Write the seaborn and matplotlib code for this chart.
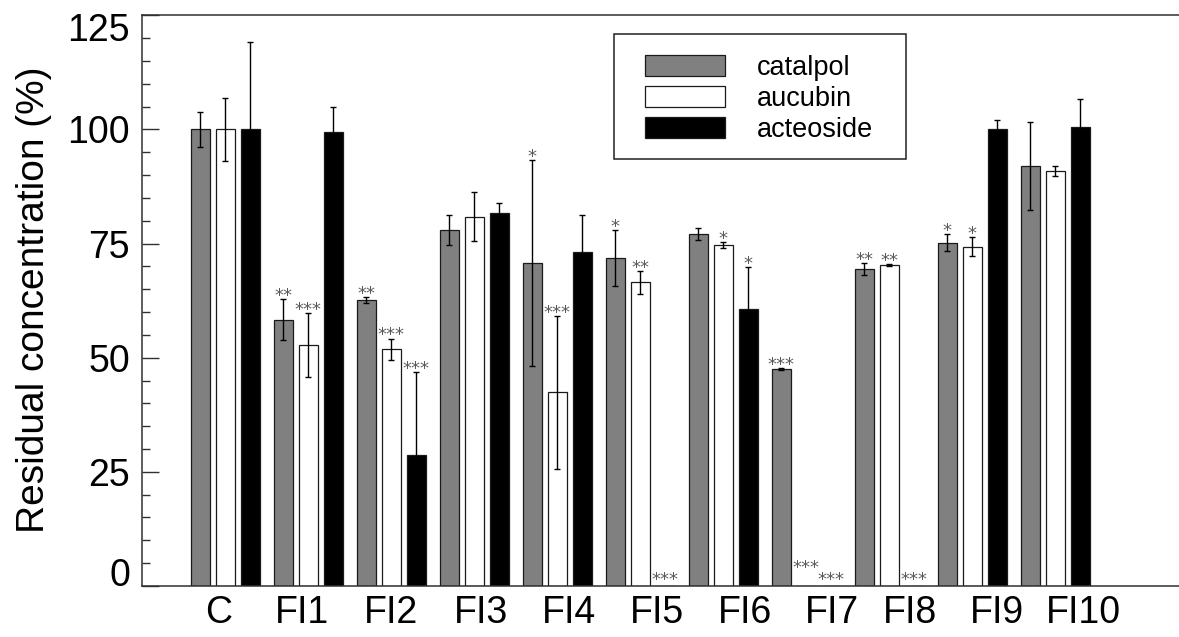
import pandas as pd
import matplotlib
matplotlib.use('Agg')
import matplotlib.pyplot as plt
import matplotlib.transforms as mtransforms
from matplotlib.patches import Rectangle, Patch
from matplotlib.ticker import MultipleLocator
import seaborn as sns

groups = ['C', 'FI1', 'FI2', 'FI3', 'FI4', 'FI5', 'FI6', 'FI7', 'FI8', 'FI9', 'FI10']
compounds = ['catalpol', 'aucubin', 'acteoside']

catalpol = [100, 58.3, 62.6, 78.0, 70.7, 71.8, 77.1, 47.5, 69.5, 75.2, 92.0]
catalpol_err = [3.9, 4.5, 0.7, 3.3, 22.6, 6.2, 1.3, 0.25, 1.3, 1.9, 9.7]
catalpol_sig = ['', '**', '**', '', '*', '*', '', '***', '**', '*', '']

aucubin = [100, 52.8, 51.9, 80.9, 42.4, 66.5, 74.7, 0, 70.3, 74.3, 90.9]
aucubin_err = [6.9, 7.0, 2.3, 5.3, 16.8, 2.5, 0.6, 0, 0.2, 2.1, 1.0]
aucubin_sig = ['', '***', '***', '', '***', '**', '*', '***', '**', '*', '']

acteoside = [100, 99.5, 28.6, 81.7, 73.1, 0, 60.6, 0, 0, 100.0, 100.5]
acteoside_err = [19.1, 5.4, 18.2, 2.1, 8.2, 0, 9.2, 0, 0, 2.0, 6.1]
acteoside_sig = ['', '', '***', '', '', '***', '*', '***', '***', '', '']

# group labels sit a bit off the bar groups in the original
label_pos = [-0.08, 0.92, 2.0, 3.08, 4.14, 5.2, 6.26, 7.31, 8.25, 9.3, 10.34]

values = [catalpol, aucubin, acteoside]
errors = [catalpol_err, aucubin_err, acteoside_err]
sigs = [catalpol_sig, aucubin_sig, acteoside_sig]

rows = []
for c, vals in zip(compounds, values):
    for g, v in zip(groups, vals):
        rows.append({'group': g, 'compound': c, 'value': v})
df = pd.DataFrame(rows)

sns.set_style('ticks')
plt.rcParams['font.family'] = ['Liberation Sans', 'DejaVu Sans']
plt.rcParams['text.color'] = 'black'
plt.rcParams['axes.labelcolor'] = 'black'
plt.rcParams['xtick.color'] = 'black'
plt.rcParams['ytick.color'] = 'black'

fig = plt.figure(figsize=(11.79, 6.37), dpi=100)
ax = fig.add_axes([0.1202, 0.0801, 0.8798, 0.8959])

palette = {'catalpol': '#808080', 'aucubin': 'white', 'acteoside': 'black'}
width = 0.904
sns.barplot(data=df, x='group', y='value', hue='compound', order=groups,
            hue_order=compounds, palette=palette, width=width, gap=0.25,
            errorbar=None, edgecolor='#1a1a1a', linewidth=0.9, saturation=1,
            legend=False, ax=ax)

# map every drawn bar back to its group / compound from its position
pitch = width / len(compounds)
for bar in ax.patches:
    x = bar.get_x() + bar.get_width() / 2
    h = bar.get_height()
    j = int(round(x))
    i = int(round((x - j) / pitch)) + 1
    e = errors[i][j]
    if h > 0:
        ax.errorbar(x, h, yerr=e, fmt='none', ecolor='black', elinewidth=1,
                    capsize=2.5, capthick=1, zorder=5)
    s = sigs[i][j]
    if s:
        dy = -1.3 if h > 0 else 1
        if h == 0 and compounds[i] == 'aucubin':
            dy = 9.5
        ax.annotate(s, (x, h + e), xytext=(0, dy), textcoords='offset points',
                    ha='center', va='baseline', fontsize=13, color='#5a5a5a',
                    family='DejaVu Sans')

ax.set_xlim(-1.007, 11.49)
ax.set_ylim(0, 125)
ax.set_xticks(label_pos)
ax.set_xticklabels(groups, fontsize=27)
ax.tick_params(axis='x', length=0, pad=6.3)
ax.set_yticks([0, 25, 50, 75, 100, 125])
ax.yaxis.set_minor_locator(MultipleLocator(5))
ax.tick_params(axis='y', which='major', direction='in', length=12, width=1,
               labelsize=27, pad=8.4, color='#303030')
ax.tick_params(axis='y', which='minor', direction='in', length=6, width=1,
               color='#303030')
ax.set_xlabel('')
ax.set_ylabel('Residual concentration (%)', fontsize=28)
ax.yaxis.set_label_coords(-0.0868, 0.501)

# end labels pulled inward, as in the original
ylabels = ax.get_yticklabels()
ylabels[0].set_transform(ylabels[0].get_transform() +
                         mtransforms.ScaledTranslation(0, 14 / 100, fig.dpi_scale_trans))
ylabels[-1].set_transform(ylabels[-1].get_transform() +
                          mtransforms.ScaledTranslation(0, -12 / 100, fig.dpi_scale_trans))

for side in ['left', 'bottom', 'top']:
    ax.spines[side].set_color('#303030')
    ax.spines[side].set_linewidth(1.1)
ax.spines['right'].set_visible(False)

handles = [Patch(facecolor=palette[c], edgecolor='#1a1a1a', linewidth=0.9) for c in compounds]
ax.legend(handles, compounds, loc='upper left', bbox_to_anchor=(0.4852, 0.9308),
          frameon=False, borderpad=0, borderaxespad=0, fontsize=19.5,
          handlelength=2.95, handleheight=0.81, handletextpad=1.17, labelspacing=0.19)
ax.add_patch(Rectangle((0.4556, 0.7484), 0.2812, 0.218, transform=ax.transAxes,
                       fill=False, edgecolor='#202020', linewidth=1.1, zorder=6))

fig.savefig('out.png', dpi=100)
plt.close(fig)
